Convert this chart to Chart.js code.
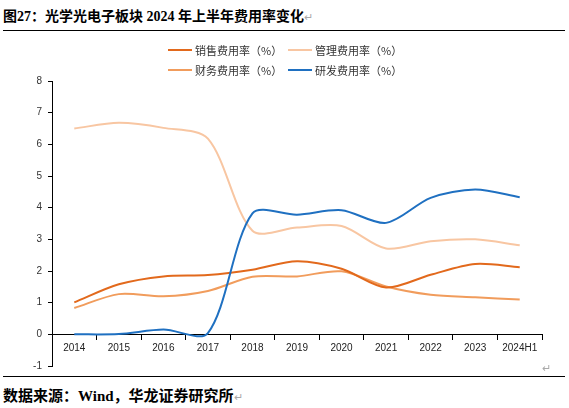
<!DOCTYPE html>
<html>
<head>
<meta charset="utf-8">
<script src="https://cdn.jsdelivr.net/npm/chart.js@4.4.1/dist/chart.umd.min.js"></script>
<style>
  body { margin: 0; width: 569px; height: 408px; background: #fff; position: relative; overflow: hidden; }
  .title { position: absolute; left: 3px; top: 5px; font: bold 14px "Liberation Serif", "Noto Sans CJK SC"; color: #000; white-space: nowrap; }
  .mark { color: #aaa; font-weight: normal; font-size: 11px; }
  .rule { position: absolute; left: 3px; width: 562px; height: 0; border-top: 1.5px solid #000; }
  .source { position: absolute; left: 3px; top: 384px; font: bold 15px "Liberation Serif", "Noto Sans CJK SC"; color: #000; white-space: nowrap; }
  #wrap { position: absolute; left: 0; top: 36px; width: 569px; height: 342px; }
  #legend { position: absolute; left: 168px; top: 42px; display: grid; grid-template-columns: 120px 120px; row-gap: 4px; }
  .item { display: flex; align-items: center; height: 16px; font: 11px "Noto Sans CJK SC"; color: #333; white-space: nowrap; }
  .item span { display: inline-block; width: 24px; height: 0; border-top: 2px solid; margin-right: 3px; }
  .cell { position: absolute; left: 542px; top: 362px; }
</style>
</head>
<body>
<div class="title">图27：光学光电子板块 2024 年上半年费用率变化<span class="mark">↵</span></div>
<div class="rule" style="top:30px"></div>
<div id="wrap"><canvas id="chart"></canvas></div>
<div id="legend"></div>
<div class="mark cell">↵</div>
<div class="rule" style="top:376px"></div>
<div class="source">数据来源：Wind，华龙证券研究所<span class="mark">↵</span></div>
<script>
const years = ['2014', '2015', '2016', '2017', '2018', '2019', '2020', '2021', '2022', '2023', '2024H1'];
const salesRate = [1.01, 1.58, 1.83, 1.87, 2.04, 2.31, 2.07, 1.48, 1.88, 2.22, 2.12];
const adminRate = [6.5, 6.68, 6.52, 6.18, 3.27, 3.37, 3.42, 2.71, 2.94, 3.0, 2.81];
const financeRate = [0.83, 1.27, 1.2, 1.37, 1.82, 1.83, 1.99, 1.51, 1.25, 1.17, 1.1];
const rdRate = [0, 0.01, 0.15, 0.04, 3.82, 3.78, 3.92, 3.52, 4.31, 4.57, 4.33];
const yTicks = [-1, 0, 1, 2, 3, 4, 5, 6, 7, 8];

const series = [
    { label: '销售费用率（%）', data: salesRate, color: '#E2691C', order: 2 },
    { label: '管理费用率（%）', data: adminRate, color: '#F8C6A2', order: 4 },
    { label: '财务费用率（%）', data: financeRate, color: '#F19C5C', order: 3 },
    { label: '研发费用率（%）', data: rdRate, color: '#1F70C1', order: 1 }
];

// two-column legend like the original
const legend = document.getElementById('legend');
series.forEach(function(s) {
    const div = document.createElement('div');
    div.className = 'item';
    div.innerHTML = '<span style="border-color:' + s.color + '"></span>' + s.label;
    legend.appendChild(div);
});

const axisFont = { family: '"Liberation Sans", Arial', size: 10 };

new Chart(document.getElementById('chart').getContext('2d'), {
    type: 'line',
    data: {
        labels: years,
        datasets: series.map(function(s) {
            return {
                label: s.label,
                data: s.data,
                borderColor: s.color,
                backgroundColor: s.color,
                borderWidth: 2,
                pointRadius: 0,
                tension: 0.3,
                order: s.order
            };
        })
    },
    options: {
        responsive: true,
        maintainAspectRatio: false,
        animation: false,
        layout: { padding: { top: 45, right: 27, bottom: 1, left: 0 } },
        plugins: { legend: { display: false }, tooltip: { enabled: false } },
        scales: {
            x: {
                position: { y: 0 },
                offset: true,
                grid: { offset: true, drawOnChartArea: false, color: '#000', tickLength: 5 },
                border: { color: '#000', width: 1 },
                ticks: { color: '#222', font: axisFont, padding: 3, maxRotation: 0, autoSkip: false },
                afterFit: function(scale) { scale.height = 0; }
            },
            y: {
                min: -1,
                max: 8,
                afterBuildTicks: function(scale) { scale.ticks = yTicks.map(function(v) { return { value: v }; }); },
                grid: { drawOnChartArea: false, color: '#000', tickLength: 4 },
                border: { color: '#000', width: 1 },
                ticks: { color: '#333', font: axisFont, padding: 6 },
                afterFit: function(scale) { scale.width = 52; }
            }
        }
    }
});
</script>
</body>
</html>
